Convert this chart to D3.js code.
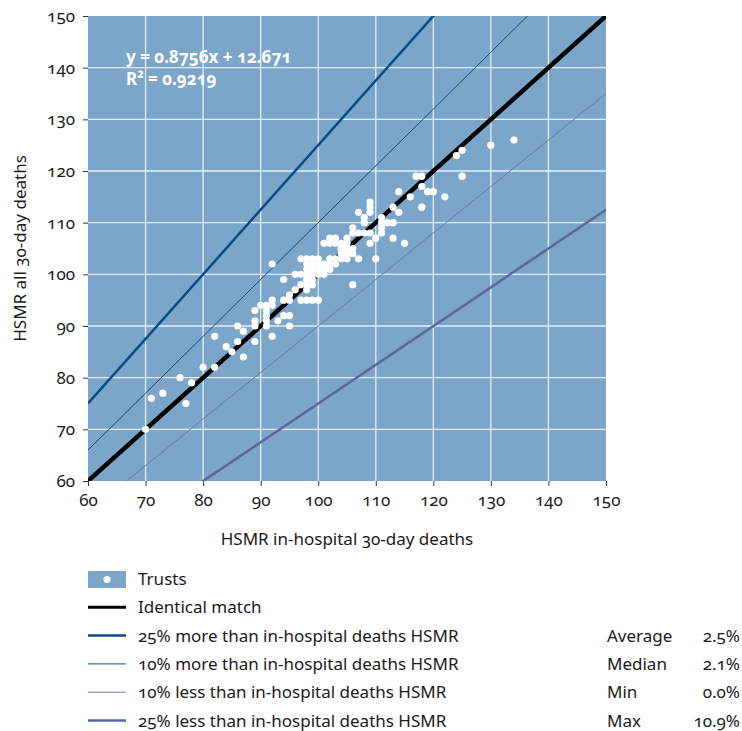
<!DOCTYPE html>
<html>
<head>
<script src="https://d3js.org/d3.v7.min.js"></script>
<style>
  body { margin: 0; background: #fff; }
  svg text { font-family: "Noto Sans", "Open Sans", sans-serif; font-variant-numeric: oldstyle-nums; fill: #1a1a1a; }
</style>
</head>
<body>
<div id="chart"></div>
<script>
// Trusts: [in-hospital HSMR, all 30-day HSMR]
var trusts = [
  [70,70],[71,76],[73,77],[76,80],[77,75],[78,79],[80,82],[82,82],[82,88],[84,86],[85,85],
  [86,87],[86,90],[87,89],[87,84],[89,87],[89,90],[89,91],[89,93],[90,94],[91,94],[91,93],
  [91,92],[91,91],[91,90],[92,94],[92,95],[92,88],[93,91],[94,92],[95,92],[95,90],
  [92,102],[94,99],[94,95],[95,96],[95,95],[96,97],[97,98],[98,98],[96,100],[97,100],
  [97,103],[98,103],[99,103],[100,103],[98,102],[99,102],[100,102],[98,101],[99,101],[100,101],
  [98,100],[99,100],[100,100],[98,99],[99,99],[97,95],[98,95],[99,95],[100,95],[98,97],[99,98],
  [101,100],[101,101],[101,102],[102,101],[102,102],[102,103],[103,102],[103,103],[104,103],
  [104,104],[104,105],[105,104],[105,105],[106,105],[104,106],[105,106],[101,106],[102,106],
  [103,106],[102,107],[103,107],[105,107],[106,108],[106,109],[107,108],[108,108],[109,108],
  [107,112],[108,111],[108,110],[109,114],[109,113],[109,112],[110,107],[109,106],[110,103],
  [106,98],[107,103],[105,103],[106,104],
  [111,111],[111,110],[111,109],[111,108],[112,110],[113,110],[113,107],[113,113],[114,112],
  [114,116],[115,106],[116,115],[117,119],[118,119],[118,117],[118,113],[119,116],[120,116],
  [122,115],[124,123],[125,124],[125,119],[130,125],[134,126]
];

// reference lines: y = factor * x
var refNames = ["Identical match", "25% more than in-hospital deaths HSMR", "10% more than in-hospital deaths HSMR",
                "10% less than in-hospital deaths HSMR", "25% less than in-hospital deaths HSMR"];
var refFactors = [1, 1.25, 1.1, 0.9, 0.75];
var refColors = ["#000000", "#0b4a86", "#0d4a84", "#6b78aa", "#59679c"];
var refWidths = [4.5, 2.5, 1, 1, 2.5];

var statLabels = ["Average", "Median", "Min", "Max"];
var statValues = ["2.5%", "2.1%", "0.0%", "10.9%"];

var axisTicks = [60, 70, 80, 90, 100, 110, 120, 130, 140, 150];

var W = 742, H = 731;
var margin = { top: 16, right: 136, bottom: 250, left: 88 };
var width = W - margin.left - margin.right;
var height = H - margin.top - margin.bottom;

var svg = d3.select("#chart").append("svg")
  .attr("width", W).attr("height", H);

var g = svg.append("g")
  .attr("transform", "translate(" + margin.left + "," + margin.top + ")");

var x = d3.scaleLinear().domain([60, 150]).range([0, width]);
var y = d3.scaleLinear().domain([60, 150]).range([height, 0]);

g.append("rect").attr("width", width).attr("height", height).attr("fill", "#7ba6c9");

svg.append("clipPath").attr("id", "clip")
  .append("rect").attr("x", 0).attr("y", 0).attr("width", width).attr("height", height);

// grid
g.selectAll(".vgrid").data(axisTicks.slice(1, -1)).enter().append("line")
  .attr("x1", function(d) { return x(d); }).attr("x2", function(d) { return x(d); })
  .attr("y1", 0).attr("y2", height)
  .attr("stroke", "#e4eef6").attr("stroke-width", 1.3);
g.selectAll(".hgrid").data(axisTicks.slice(1, -1)).enter().append("line")
  .attr("y1", function(d) { return y(d); }).attr("y2", function(d) { return y(d); })
  .attr("x1", 0).attr("x2", width)
  .attr("stroke", "#e4eef6").attr("stroke-width", 1.3);

// reference lines
var lines = g.append("g").attr("clip-path", "url(#clip)");
var order = [3, 2, 4, 1, 0];
order.forEach(function(i) {
  var f = refFactors[i];
  lines.append("line")
    .attr("x1", x(60)).attr("y1", y(60 * f))
    .attr("x2", x(150)).attr("y2", y(150 * f))
    .attr("stroke", refColors[i]).attr("stroke-width", refWidths[i]);
});

// points
g.selectAll(".dot").data(trusts).enter().append("circle")
  .attr("cx", function(d) { return x(d[0]); })
  .attr("cy", function(d) { return y(d[1]); })
  .attr("r", 3.6)
  .attr("fill", "#ffffff");

// regression text
g.append("text").attr("x", 38).attr("y", 47)
  .style("fill", "#fff").style("font-weight", "bold").style("font-size", "17px")
  .text("y = 0.8756x + 12.671");
g.append("text").attr("x", 38).attr("y", 69)
  .style("fill", "#fff").style("font-weight", "bold").style("font-size", "17px")
  .text("R² = 0.9219");

// axes
var xAxis = g.append("g").attr("transform", "translate(0," + height + ")")
  .call(d3.axisBottom(x).tickValues(axisTicks).tickSize(5).tickPadding(8));
var yAxis = g.append("g")
  .call(d3.axisLeft(y).tickValues(axisTicks).tickSize(5).tickPadding(8));
[xAxis, yAxis].forEach(function(a) {
  a.attr("font-size", null).attr("font-family", null);
  a.select(".domain").remove();
  a.selectAll(".tick line").attr("stroke", "#333");
  a.selectAll("text").style("font-size", "17px");
});

g.append("text").attr("x", width / 2).attr("y", height + 64)
  .attr("text-anchor", "middle").style("font-size", "17px")
  .text("HSMR in-hospital 30-day deaths");
g.append("text").attr("transform", "translate(-62," + (height / 2) + ") rotate(-90)")
  .attr("text-anchor", "middle").style("font-size", "17px")
  .text("HSMR all 30-day deaths");

// legend
var leg = svg.append("g").attr("transform", "translate(88,579)");
var rowH = 28.3;
leg.append("rect").attr("x", 0).attr("y", -8).attr("width", 38).attr("height", 17).attr("fill", "#7ba6c9");
leg.append("circle").attr("cx", 19).attr("cy", 0.5).attr("r", 3.6).attr("fill", "#fff");
leg.append("text").attr("x", 50).attr("y", 6).style("font-size", "17px").text("Trusts");
refNames.forEach(function(name, i) {
  var yy = (i + 1) * rowH;
  leg.append("line").attr("x1", 0).attr("x2", 38).attr("y1", yy).attr("y2", yy)
    .attr("stroke", refColors[i]).attr("stroke-width", Math.min(refWidths[i], 3));
  leg.append("text").attr("x", 50).attr("y", yy + 6).style("font-size", "17px").text(name);
});
statLabels.forEach(function(s, i) {
  var yy = (i + 2) * rowH;
  leg.append("text").attr("x", 519).attr("y", yy + 6).style("font-size", "17px").text(s);
  leg.append("text").attr("x", 652).attr("y", yy + 6).attr("text-anchor", "end")
    .style("font-size", "17px").text(statValues[i]);
});
</script>
</body>
</html>
